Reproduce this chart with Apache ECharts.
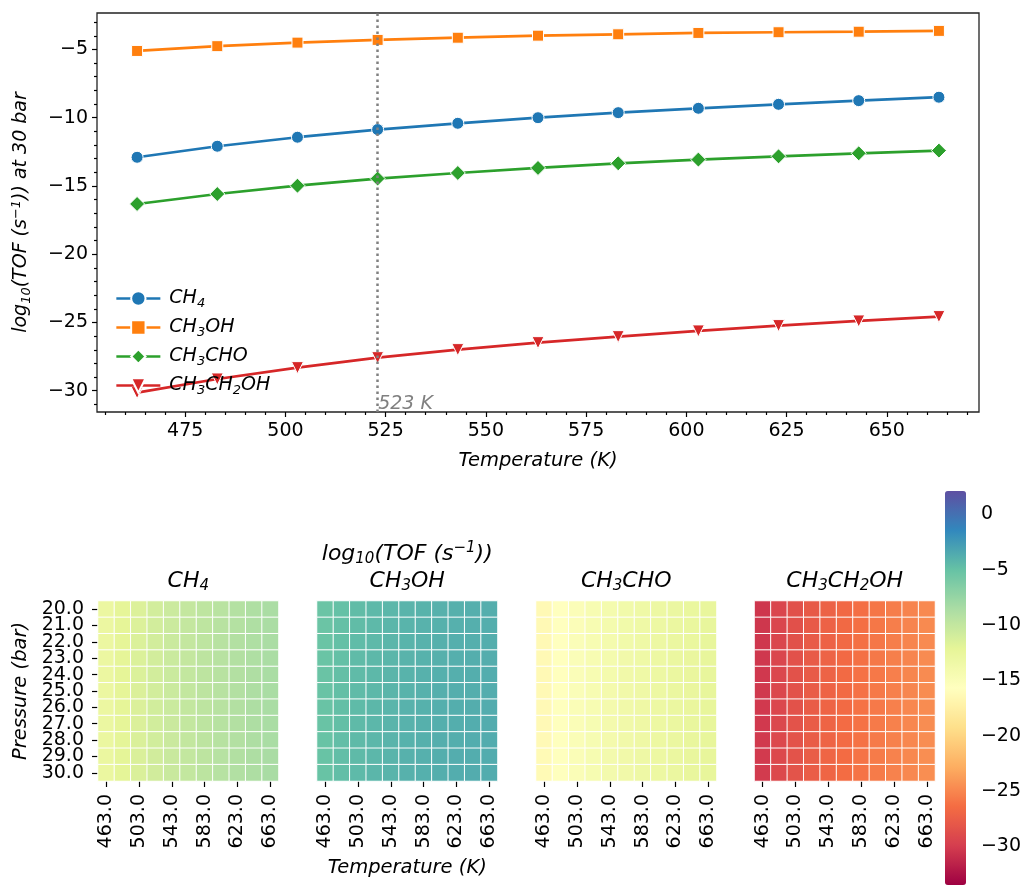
<!DOCTYPE html>
<html>
<head>
<meta charset="utf-8">
<script src="https://cdn.jsdelivr.net/npm/echarts@6/dist/echarts.min.js"></script>
<style>
  html, body { margin: 0; padding: 0; background: #fff; }
  #chart { width: 1024px; height: 886px; }
</style>
</head>
<body>
<div id="chart"></div>
<script>
// Temperatures (K) and pressures (bar) of the simulation grid
const temps = [463, 483, 503, 523, 543, 563, 583, 603, 623, 643, 663];
const pressures = [20, 21, 22, 23, 24, 25, 26, 27, 28, 29, 30];

// log10(TOF) at 30 bar for each product
const ch4 = [-12.90, -12.09, -11.43, -10.87, -10.41, -10.00, -9.63, -9.31, -9.02, -8.75, -8.50];
const ch3oh = [-5.11, -4.76, -4.50, -4.30, -4.14, -3.99, -3.89, -3.79, -3.74, -3.70, -3.64];
const ch3cho = [-16.32, -15.59, -14.98, -14.46, -14.05, -13.68, -13.34, -13.07, -12.83, -12.61, -12.41];
const ch3ch2oh = [-30.14, -29.14, -28.31, -27.58, -26.99, -26.48, -26.04, -25.62, -25.23, -24.89, -24.57];

// change of log10(TOF) at each pressure relative to 30 bar
const ch4Shift = [-0.09, -0.08, -0.07, -0.06, -0.05, -0.04, -0.03, -0.02, -0.015, -0.007, 0];
const ch3ohShift = [-0.18, -0.16, -0.14, -0.12, -0.10, -0.08, -0.06, -0.05, -0.03, -0.015, 0];
const ch3choShift = [-0.09, -0.08, -0.07, -0.06, -0.05, -0.04, -0.03, -0.02, -0.015, -0.007, 0];
const ch3ch2ohShift = [-0.26, -0.23, -0.20, -0.17, -0.14, -0.12, -0.09, -0.07, -0.05, -0.02, 0];

// axis ticks
const xMajor = [475, 500, 525, 550, 575, 600, 625, 650];
const xMinor = [455, 460, 465, 470, 480, 485, 490, 495, 505, 510, 515, 520, 530, 535, 540, 545, 555, 560, 565, 570, 580, 585, 590, 595, 605, 610, 615, 620, 630, 635, 640, 645, 655, 660, 665, 670];
const yMajor = [-30, -25, -20, -15, -10, -5];
const yMinor = [-31, -29, -28, -27, -26, -24, -23, -22, -21, -19, -18, -17, -16, -14, -13, -12, -11, -9, -8, -7, -6, -4, -3];
const cbarTicks = [0, -5, -10, -15, -20, -25, -30];
const refTemp = 523;

const names = ['CH4', 'CH3OH', 'CH3CHO', 'CH3CH2OH'];
const colors = ['#1f77b4', '#ff7f0e', '#2ca02c', '#d62728'];
const spectral = ['#9e0142', '#d53e4f', '#f46d43', '#fdae61', '#fee08b', '#ffffbf',
                  '#e6f598', '#abdda4', '#66c2a5', '#3288bd', '#5e4fa2'];

const FONT = 'DejaVu Sans';
const minus = v => String(v).replace('-', '\u2212');
const chem = n => n.replace(/(\d)/g, '{s|$1}');

const richSmall = {
  s: { fontSize: 13, lineHeight: 13, verticalAlign: 'bottom', fontStyle: 'italic', fontFamily: FONT, color: '#000' },
  p: { fontSize: 13, lineHeight: 13, verticalAlign: 'top', fontStyle: 'italic', fontFamily: FONT, color: '#000' }
};
const richBig = {
  s: { fontSize: 15, lineHeight: 15, verticalAlign: 'bottom', fontStyle: 'italic', fontFamily: FONT, fill: '#000' },
  p: { fontSize: 15, lineHeight: 15, verticalAlign: 'top', fontStyle: 'italic', fontFamily: FONT, fill: '#000' }
};

const lineData = [ch4, ch3oh, ch3cho, ch3ch2oh];
const shifts = [ch4Shift, ch3ohShift, ch3choShift, ch3ch2ohShift];
const symbols = ['circle', 'rect', 'diamond', 'triangle'];
const symbolSizes = [12, 11, 15, 12];
const symbolRotates = [0, 0, 0, 180];

const tickStyle = { color: '#000', width: 1.2 };
const labelStyle = { color: '#000', fontFamily: FONT, fontSize: 19 };

// heatmap panel geometry
const hmLefts = [98, 317, 536, 754.5];
const hmWidth = 180.5, hmTop = 601, hmHeight = 180;

const grids = [{ left: 97, top: 13, width: 882, height: 399, show: true, borderColor: '#222', borderWidth: 1.3, backgroundColor: 'transparent' }];
hmLefts.forEach(l => grids.push({ left: l, top: hmTop, width: hmWidth, height: hmHeight }));
grids.push({ left: 945, top: 491, width: 21, height: 394 }); // colorbar axis

const xAxes = [
  {
    gridIndex: 0, type: 'value', min: 453, max: 673, position: 'bottom',
    axisLine: { show: false }, splitLine: { show: false },
    axisTick: { show: true, length: 5, lineStyle: tickStyle, customValues: xMajor },
    axisLabel: Object.assign({ margin: 10, customValues: xMajor, formatter: minus }, labelStyle),
    name: 'Temperature (K)', nameLocation: 'middle', nameGap: 39,
    nameTextStyle: { fontFamily: FONT, fontSize: 19.5, fontStyle: 'italic', color: '#000' }
  },
  {
    gridIndex: 0, type: 'value', min: 453, max: 673, position: 'bottom',
    axisLine: { show: false }, splitLine: { show: false }, axisLabel: { show: false },
    axisTick: { show: true, length: 3, lineStyle: tickStyle, customValues: xMinor }
  }
];
const yAxes = [
  {
    gridIndex: 0, type: 'value', min: -31.56, max: -2.33, position: 'left',
    axisLine: { show: false }, splitLine: { show: false },
    axisTick: { show: true, length: 5, lineStyle: tickStyle, customValues: yMajor },
    axisLabel: Object.assign({ margin: 9, customValues: yMajor, formatter: minus }, labelStyle),
    name: 'log{s|10}(TOF (s{p|\u22121})) at 30 bar', nameLocation: 'middle', nameGap: 64, nameRotate: 90,
    nameTextStyle: { fontFamily: FONT, fontSize: 19, fontStyle: 'italic', color: '#000', lineHeight: 23, rich: richSmall }
  },
  {
    gridIndex: 0, type: 'value', min: -31.56, max: -2.33, position: 'left',
    axisLine: { show: false }, splitLine: { show: false }, axisLabel: { show: false },
    axisTick: { show: true, length: 3, lineStyle: tickStyle, customValues: yMinor }
  }
];

hmLefts.forEach((l, k) => {
  xAxes.push({
    gridIndex: k + 1, type: 'category', data: temps.map(t => t.toFixed(1)),
    axisLine: { show: false }, splitLine: { show: false },
    axisTick: { show: true, interval: 1, alignWithLabel: true, length: 6, lineStyle: tickStyle },
    axisLabel: Object.assign({ interval: 1, rotate: 90, margin: 13, hideOverlap: false }, labelStyle)
  });
  yAxes.push({
    gridIndex: k + 1, type: 'category', inverse: true, data: pressures.map(p => p.toFixed(1)),
    show: k === 0,
    axisLine: { show: false }, splitLine: { show: false },
    axisTick: { show: true, interval: 0, alignWithLabel: true, length: 6, lineStyle: tickStyle },
    axisLabel: Object.assign({ interval: 0, margin: 14, hideOverlap: false }, labelStyle)
  });
});
xAxes.push({ gridIndex: 5, type: 'value', show: false, min: 0, max: 1 });
yAxes.push({
  gridIndex: 5, type: 'value', min: -33.5, max: 2.1, position: 'right',
  axisLine: { show: false }, splitLine: { show: false },
  axisTick: { show: true, length: 6, lineStyle: tickStyle, customValues: cbarTicks },
  axisLabel: Object.assign({ margin: 15, customValues: cbarTicks, formatter: minus }, labelStyle)
});

const series = names.map((n, k) => ({
  name: n, type: 'line', xAxisIndex: 0, yAxisIndex: 0,
  data: temps.map((t, i) => [t, lineData[k][i]]),
  symbol: symbols[k], symbolSize: symbolSizes[k], symbolRotate: symbolRotates[k],
  lineStyle: { color: colors[k], width: 2.7 },
  itemStyle: { color: colors[k], borderColor: '#fff', borderWidth: 1 },
  emphasis: { disabled: true }, z: 3
}));
series[0].markLine = {
  silent: true, symbol: 'none', animation: false,
  lineStyle: { color: '#808080', type: [2.5, 3.5], width: 2.5 },
  label: { show: false },
  data: [{ xAxis: refTemp }]
};
series[0].markPoint = {
  silent: true, animation: false, symbol: 'circle', symbolSize: 1,
  itemStyle: { color: 'rgba(0,0,0,0)' },
  label: { show: true, position: 'right', distance: 0, formatter: refTemp + ' K', color: '#808080', fontFamily: FONT, fontSize: 19, fontStyle: 'italic' },
  data: [{ coord: [refTemp, -31.0] }]
};

lineData.forEach((base, k) => {
  const data = [];
  pressures.forEach((p, pi) => {
    temps.forEach((t, ti) => {
      data.push([ti, pi, +(base[ti] + shifts[k][pi]).toFixed(3)]);
    });
  });
  series.push({
    type: 'heatmap', xAxisIndex: k + 2, yAxisIndex: k + 2, data,
    itemStyle: { borderColor: '#fff', borderWidth: 1 },
    emphasis: { disabled: true }, progressive: 0
  });
});

const hmCenters = hmLefts.map(l => l + hmWidth / 2);
const graphics = names.map((n, k) => ({
  type: 'text', x: hmCenters[k], y: 581,
  style: { text: chem(n), rich: richBig, fontFamily: FONT, fontSize: 22, fontStyle: 'italic', fill: '#000', align: 'center', verticalAlign: 'middle', lineHeight: 26 }
}));
graphics.push({
  type: 'text', x: hmCenters[1], y: 554,
  style: { text: 'log{s|10}(TOF (s{p|\u22121}))', rich: richBig, fontFamily: FONT, fontSize: 22, fontStyle: 'italic', fill: '#000', align: 'center', verticalAlign: 'middle', lineHeight: 26 }
});
graphics.push({
  type: 'text', x: hmCenters[1], y: 868,
  style: { text: 'Temperature (K)', fontFamily: FONT, fontSize: 19.5, fontStyle: 'italic', fill: '#000', align: 'center', verticalAlign: 'middle' }
});
graphics.push({
  type: 'text', x: 21, y: 691, rotation: Math.PI / 2,
  style: { text: 'Pressure (bar)', fontFamily: FONT, fontSize: 19.5, fontStyle: 'italic', fill: '#000', align: 'center', verticalAlign: 'middle' }
});

const chart = echarts.init(document.getElementById('chart'), null, { renderer: 'canvas' });
chart.setOption({
  animation: false,
  backgroundColor: '#fff',
  textStyle: { fontFamily: FONT },
  grid: grids,
  xAxis: xAxes,
  yAxis: yAxes,
  legend: {
    orient: 'vertical', left: 110, top: 282, itemWidth: 44, itemHeight: 18, itemGap: 6,
    data: names, formatter: chem, symbolRotate: 'inherit',
    lineStyle: { width: 2.7 },
    textStyle: { fontFamily: FONT, fontSize: 19, fontStyle: 'italic', color: '#000', lineHeight: 23, padding: [0, 0, 0, 4], rich: richSmall }
  },
  visualMap: {
    type: 'continuous', min: -33.5, max: 2.1, seriesIndex: [4, 5, 6, 7],
    left: 945, top: 491, itemWidth: 21, itemHeight: 394, padding: 0,
    calculable: false, hoverLink: false, inRange: { color: spectral }
  },
  graphic: graphics,
  series
});
</script>
</body>
</html>
